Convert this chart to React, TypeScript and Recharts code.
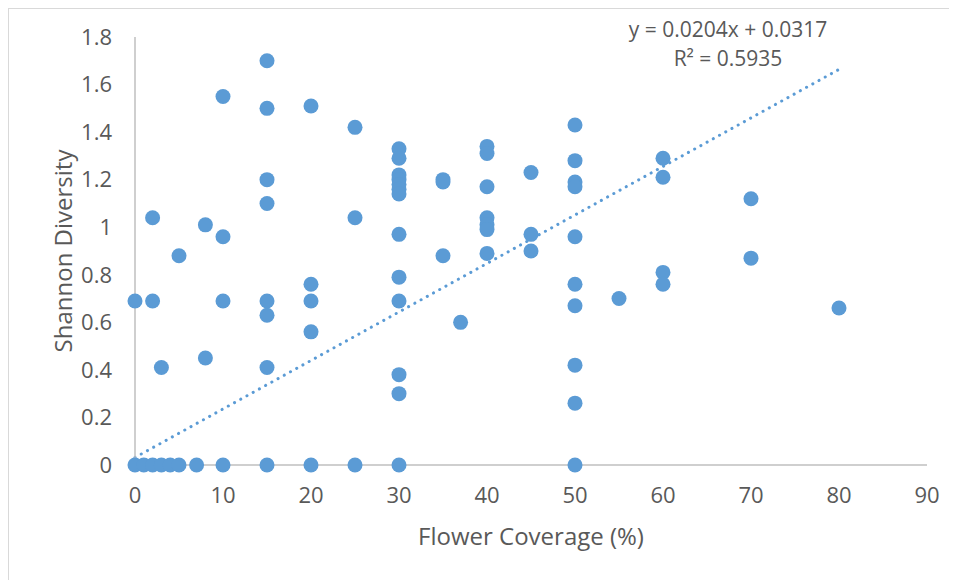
import React from "react";
import { ScatterChart, Scatter, XAxis, YAxis, ReferenceLine, Label } from "recharts";

// Flower coverage (%) and Shannon diversity, one entry per plot
const coverage = [
  0, 0,
  1,
  2, 2, 2,
  3, 3,
  4,
  5, 5,
  7,
  8, 8,
  10, 10, 10, 10,
  15, 15, 15, 15, 15, 15, 15, 15,
  20, 20, 20, 20, 20,
  25, 25, 25,
  30, 30, 30, 30, 30, 30, 30, 30, 30, 30, 30, 30, 30,
  35, 35, 35,
  37,
  40, 40, 40, 40, 40, 40, 40,
  45, 45, 45,
  50, 50, 50, 50, 50, 50, 50, 50, 50, 50,
  55,
  60, 60, 60, 60,
  70, 70,
  80,
];
const diversity = [
  0.69, 0,
  0,
  1.04, 0.69, 0,
  0.41, 0,
  0,
  0.88, 0,
  0,
  1.01, 0.45,
  1.55, 0.96, 0.69, 0,
  1.7, 1.5, 1.2, 1.1, 0.69, 0.63, 0.41, 0,
  1.51, 0.76, 0.69, 0.56, 0,
  1.42, 1.04, 0,
  1.33, 1.29, 1.22, 1.2, 1.18, 1.16, 1.14, 0.97, 0.79, 0.69, 0.38, 0.3, 0,
  1.2, 1.19, 0.88,
  0.6,
  1.34, 1.31, 1.17, 1.04, 1.01, 0.99, 0.89,
  1.23, 0.97, 0.9,
  1.43, 1.28, 1.19, 1.17, 0.96, 0.76, 0.67, 0.42, 0.26, 0,
  0.7,
  1.29, 1.21, 0.81, 0.76,
  1.12, 0.87,
  0.66,
];

const xTicks = [0, 10, 20, 30, 40, 50, 60, 70, 80, 90];
const yTicks = [0, 0.2, 0.4, 0.6, 0.8, 1, 1.2, 1.4, 1.6, 1.8];

// Linear trendline as printed on the chart
const slope = 0.0204;
const intercept = 0.0317;
const trendRange = [0, 80];
const equationText = "y = 0.0204x + 0.0317";
const r2Text = "R² = 0.5935";

const xTitle = "Flower Coverage (%)";
const yTitle = "Shannon Diversity";

const points = coverage.map((x, i) => ({ x, y: diversity[i] }));
const trendSegment = trendRange.map((x) => ({ x, y: slope * x + intercept }));

const BLUE = "#5B9BD5";
const TEXT = "#595959";
const AXIS = "#BFBFBF";
const FONT = "'Open Sans', 'Noto Sans', sans-serif";

const Dot = (props: any) => {
  const { cx, cy } = props;
  if (cx == null || cy == null) return <g />;
  return <circle cx={cx} cy={cy} r={7.5} fill={BLUE} />;
};

export default function App() {
  return (
    <div
      style={{
        position: "relative",
        width: 960,
        height: 580,
        border: "1px solid #D9D9D9",
        background: "#fff",
        fontFamily: FONT,
      }}
    >
      <ScatterChart
        width={948}
        height={571}
        margin={{ top: 28, right: 30, bottom: 0, left: 0 }}
      >
        <XAxis
          type="number"
          dataKey="x"
          domain={[0, 90]}
          ticks={xTicks}
          interval={0}
          tickLine={false}
          tickSize={6}
          tickMargin={16}
          axisLine={{ stroke: AXIS, strokeWidth: 1.5 }}
          tick={{ fill: TEXT, fontSize: 22, fontFamily: FONT }}
          height={115}
        >
          <Label
            content={(p: any) => {
              const vb = p.viewBox || {};
              return (
                <text
                  x={vb.x + vb.width / 2}
                  y={vb.y + 80}
                  textAnchor="middle"
                  fill={TEXT}
                  fontSize={24}
                  fontFamily={FONT}
                >
                  {xTitle}
                </text>
              );
            }}
          />
        </XAxis>
        <YAxis
          type="number"
          dataKey="y"
          domain={[0, 1.8]}
          ticks={yTicks}
          interval={0}
          tickLine={false}
          tickSize={6}
          tickMargin={17}
          axisLine={{ stroke: AXIS, strokeWidth: 1.5 }}
          tick={{ fill: TEXT, fontSize: 22, fontFamily: FONT }}
          width={126}
        >
          <Label
            content={(p: any) => {
              const vb = p.viewBox || {};
              const cx = 53;
              const cy = vb.y + vb.height / 2;
              return (
                <text
                  x={cx}
                  y={cy}
                  textAnchor="middle"
                  dominantBaseline="central"
                  transform={`rotate(-90, ${cx}, ${cy})`}
                  fill={TEXT}
                  fontSize={24}
                  fontFamily={FONT}
                >
                  {yTitle}
                </text>
              );
            }}
          />
        </YAxis>
        <Scatter
          data={points}
          fill={BLUE}
          shape={Dot}
          isAnimationActive={false}
        />
        <ReferenceLine
          segment={trendSegment}
          stroke={BLUE}
          strokeWidth={3}
          strokeDasharray="0.1 7"
          strokeLinecap="round"
        />
      </ScatterChart>
      <div
        style={{
          position: "absolute",
          left: 569,
          top: 6,
          width: 300,
          textAlign: "center",
          color: TEXT,
          fontSize: 21,
          lineHeight: "29px",
          fontFamily: FONT,
        }}
      >
        <div>{equationText}</div>
        <div>{r2Text}</div>
      </div>
    </div>
  );
}
